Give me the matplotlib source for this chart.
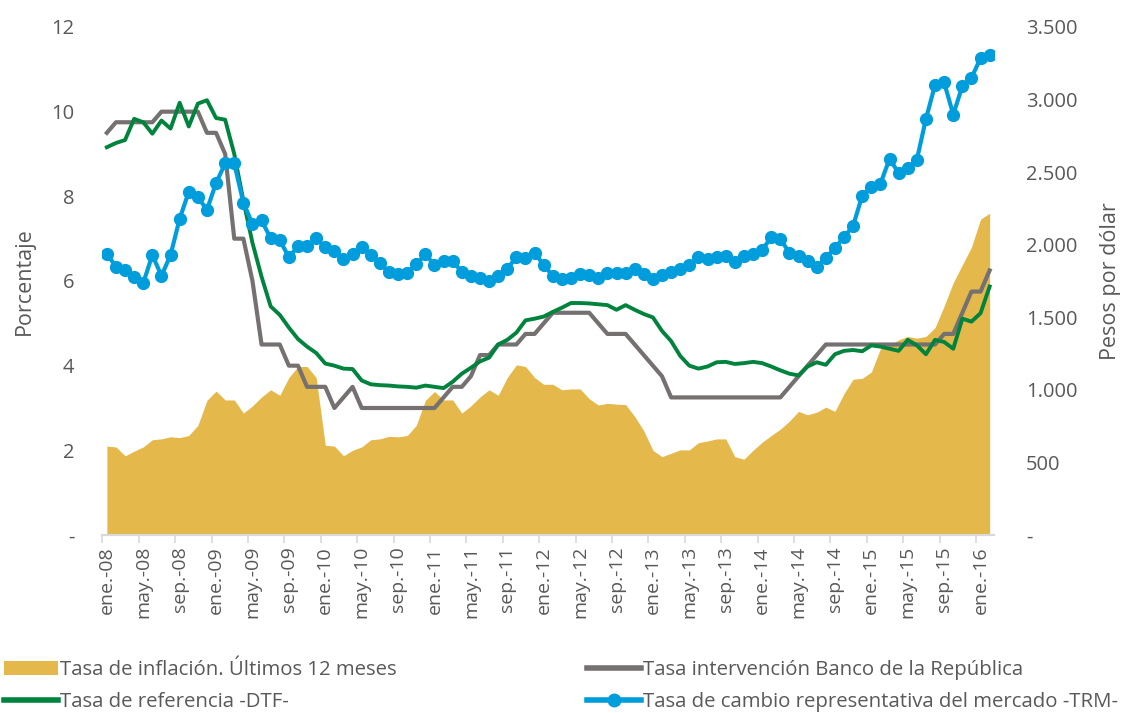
import matplotlib

matplotlib.use('Agg')
import matplotlib.pyplot as plt
from matplotlib.patches import Patch
from matplotlib.lines import Line2D
from matplotlib.ticker import FixedLocator

# --- datos (mensuales, ene-08 a feb-16) ---
anios = ['08', '09', '10', '11', '12', '13', '14', '15', '16']
meses = ['ene.', 'feb.', 'mar.', 'abr.', 'may.', 'jun.', 'jul.', 'ago.', 'sep.', 'oct.', 'nov.', 'dic.']
fechas = [f'{m}-{a}' for a in anios for m in meses][:98]

inflacion = [2.10, 2.08, 1.87, 1.98, 2.08, 2.25, 2.27, 2.32, 2.30, 2.35, 2.59, 3.18,
             3.40, 3.19, 3.19, 2.88, 3.05, 3.26, 3.43, 3.30, 3.72, 3.98, 3.98, 3.72,
             2.12, 2.10, 1.87, 2.00, 2.08, 2.25, 2.27, 2.33, 2.32, 2.35, 2.59, 3.18,
             3.39, 3.19, 3.19, 2.88, 3.05, 3.26, 3.43, 3.30, 3.72, 4.02, 3.98, 3.72,
             3.56, 3.56, 3.43, 3.45, 3.45, 3.22, 3.07, 3.11, 3.09, 3.08, 2.80, 2.46,
             2.00, 1.85, 1.93, 2.01, 2.01, 2.18, 2.22, 2.27, 2.27, 1.85, 1.79, 2.00,
             2.19, 2.35, 2.50, 2.69, 2.92, 2.84, 2.90, 3.02, 2.92, 3.34, 3.68, 3.70,
             3.85, 4.40, 4.48, 4.61, 4.69, 4.65, 4.69, 4.90, 5.41, 5.96, 6.38, 6.80,
             7.46, 7.60]

intervencion = [9.50, 9.75, 9.75, 9.75, 9.75, 9.75, 10.0, 10.0, 10.0, 10.0, 10.0, 9.50,
                9.50, 9.00, 7.00, 7.00, 6.00, 4.50, 4.50, 4.50, 4.00, 4.00, 3.50, 3.50,
                3.50, 3.00, 3.25, 3.50, 3.00, 3.00, 3.00, 3.00, 3.00, 3.00, 3.00, 3.00,
                3.00, 3.25, 3.50, 3.50, 3.75, 4.25, 4.25, 4.50, 4.50, 4.50, 4.75, 4.75,
                5.00, 5.25, 5.25, 5.25, 5.25, 5.25, 5.00, 4.75, 4.75, 4.75, 4.50, 4.25,
                4.00, 3.75, 3.25, 3.25, 3.25, 3.25, 3.25, 3.25, 3.25, 3.25, 3.25, 3.25,
                3.25, 3.25, 3.25, 3.50, 3.75, 4.00, 4.25, 4.50, 4.50, 4.50, 4.50, 4.50,
                4.50, 4.50, 4.50, 4.50, 4.50, 4.50, 4.50, 4.50, 4.75, 4.75, 5.25, 5.75,
                5.75, 6.25]

dtf = [9.16, 9.26, 9.33, 9.83, 9.75, 9.48, 9.79, 9.60, 10.21, 9.65, 10.19, 10.27,
       9.85, 9.81, 9.00, 7.90, 6.90, 6.10, 5.40, 5.20, 4.90, 4.63, 4.45, 4.30,
       4.05, 4.00, 3.93, 3.92, 3.65, 3.56, 3.54, 3.53, 3.51, 3.50, 3.48, 3.53,
       3.50, 3.47, 3.62, 3.81, 3.95, 4.10, 4.19, 4.50, 4.61, 4.78, 5.07, 5.11,
       5.16, 5.27, 5.37, 5.48, 5.48, 5.47, 5.45, 5.43, 5.32, 5.43, 5.32, 5.22,
       5.14, 4.82, 4.58, 4.23, 4.00, 3.93, 3.98, 4.08, 4.09, 4.04, 4.06, 4.09,
       4.06, 3.98, 3.89, 3.81, 3.77, 3.98, 4.08, 4.02, 4.27, 4.35, 4.37, 4.34,
       4.48, 4.45, 4.40, 4.35, 4.61, 4.48, 4.27, 4.61, 4.56, 4.40, 5.11, 5.04,
       5.24, 5.87]

trm = [1939, 1848, 1823, 1781, 1737, 1929, 1786, 1929, 2179, 2364, 2327, 2241,
       2425, 2560, 2560, 2290, 2143, 2167, 2044, 2032, 1914, 1988, 1988, 2044,
       1983, 1958, 1904, 1939, 1983, 1929, 1872, 1811, 1799, 1806, 1865, 1934,
       1860, 1885, 1889, 1811, 1786, 1774, 1749, 1786, 1835, 1914, 1909, 1946,
       1860, 1786, 1762, 1774, 1799, 1791, 1774, 1806, 1806, 1806, 1830, 1799,
       1762, 1791, 1811, 1835, 1860, 1914, 1904, 1914, 1921, 1880, 1921, 1939,
       1965, 2050, 2037, 1946, 1921, 1889, 1848, 1909, 1978, 2052, 2130, 2339,
       2400, 2420, 2592, 2494, 2528, 2585, 2867, 3101, 3118, 2897, 3093, 3150,
       3285, 3305]

ticks_izq = [0, 2, 4, 6, 8, 10, 12]
etiquetas_izq = ['-', '2', '4', '6', '8', '10', '12']
ticks_der = [0, 500, 1000, 1500, 2000, 2500, 3000, 3500]
etiquetas_der = ['-', '500', '1.000', '1.500', '2.000', '2.500', '3.000', '3.500']

# --- estilo ---
gris_texto = '#595959'
plt.rcParams['font.family'] = ['Open Sans', 'DejaVu Sans']

x = list(range(len(fechas)))

fig = plt.figure(figsize=(11.31, 7.13), dpi=100)
ax = fig.add_axes([102.3 / 1131, 1 - 535 / 713, 891.9 / 1131, 508 / 713])
ax2 = ax.twinx()

ax.fill_between(x, 0, inflacion, color='#E4B84A', lw=0, zorder=1)
ax.plot(x, intervencion, color='#767171', lw=3.0, zorder=2)
ax.plot(x, dtf, color='#00843D', lw=2.8, zorder=3)
ax2.plot(x, trm, color='#009DDC', lw=3.0, marker='o', markersize=8.5, zorder=4)

ax.set_xlim(-0.5, len(fechas) - 0.5)
ax.set_ylim(0, 12)
ax2.set_ylim(0, 3500)

# eje x: etiquetas cada 4 meses, marcas entre categorias
ax.set_xticks(x[::4])
ax.set_xticklabels(fechas[::4], rotation=90, fontsize=14, color=gris_texto)
ax.xaxis.set_minor_locator(FixedLocator([i - 0.5 for i in x[::4]]))
ax.tick_params(axis='x', which='major', length=0, pad=8)
ax.tick_params(axis='x', which='minor', length=6, width=1.2, color='#D9D9D9')

ax.set_yticks(ticks_izq)
ax.set_yticklabels(etiquetas_izq, fontsize=14.5, color=gris_texto)
ax.tick_params(axis='y', length=0, pad=20)
ax2.set_yticks(ticks_der)
ax2.set_yticklabels(etiquetas_der, fontsize=14.5, color=gris_texto)
ax2.tick_params(axis='y', length=0, pad=23)

ax.set_ylabel('Porcentaje', fontsize=15.5, color=gris_texto, labelpad=12)
ax2.set_ylabel('Pesos por dólar', fontsize=15.5, color=gris_texto, labelpad=16)

for a in (ax, ax2):
    for lado in ('top', 'left', 'right'):
        a.spines[lado].set_visible(False)
    a.spines['bottom'].set_color('#D9D9D9')
    a.spines['bottom'].set_linewidth(1.5)

# --- leyenda ---
handles = [
    Patch(facecolor='#E4B84A', edgecolor='none'),
    Line2D([], [], color='#00843D', lw=4),
    Line2D([], [], color='#767171', lw=4),
    Line2D([], [], color='#009DDC', lw=4, marker='o', markersize=9),
]
labels = [
    'Tasa de inflación. Últimos 12 meses',
    'Tasa de referencia -DTF-',
    'Tasa intervención Banco de la República',
    'Tasa de cambio representativa del mercado -TRM-',
]
fig.legend(handles, labels, loc='lower left', bbox_to_anchor=(0.0, -0.005), ncol=2,
           frameon=False, handlelength=2.65, handletextpad=0.1,
           columnspacing=9.3, labelspacing=0.6, borderpad=0.2, borderaxespad=0,
           prop={'family': ['Open Sans', 'DejaVu Sans'], 'size': 14.7},
           labelcolor=gris_texto)

fig.savefig('out.png', dpi=100)
plt.close(fig)
